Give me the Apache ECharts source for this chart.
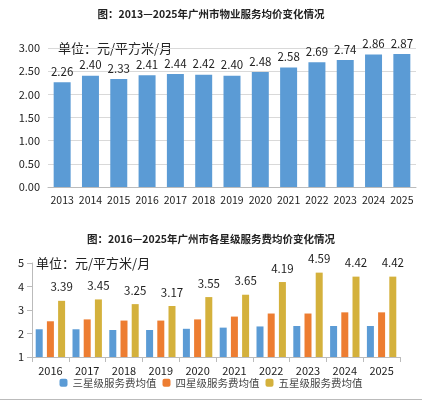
<!DOCTYPE html>
<html>
<head>
<meta charset="utf-8">
<script src="https://cdn.jsdelivr.net/npm/echarts@6/dist/echarts.min.js"></script>
<style>
  html, body { margin: 0; padding: 0; background: #fff; }
  #chart { width: 422px; height: 403px; }
</style>
</head>
<body>
<div id="chart"></div>
<script>
// 物业服务均价 2013-2025
const years1 = ["2013", "2014", "2015", "2016", "2017", "2018", "2019", "2020", "2021", "2022", "2023", "2024", "2025"];
const avgPrice = [2.26, 2.40, 2.33, 2.41, 2.44, 2.42, 2.40, 2.48, 2.58, 2.69, 2.74, 2.86, 2.87];

// 各星级服务费均值 2016-2025
const years2 = ["2016", "2017", "2018", "2019", "2020", "2021", "2022", "2023", "2024", "2025"];
const star3 = [2.18, 2.18, 2.15, 2.15, 2.20, 2.25, 2.30, 2.32, 2.32, 2.32];
const star4 = [2.52, 2.60, 2.55, 2.55, 2.60, 2.72, 2.85, 2.85, 2.90, 2.90];
const star5 = [3.39, 3.45, 3.25, 3.17, 3.55, 3.65, 4.19, 4.59, 4.42, 4.42];

const font = "'Noto Sans CJK SC', 'Noto Sans', sans-serif";
const chart = echarts.init(document.getElementById("chart"));

chart.setOption({
  textStyle: { fontFamily: font },
  animation: false,
  title: [
    { text: "图：2013—2025年广州市物业服务均价变化情况", left: "center", top: 4,
      textStyle: { fontSize: 10.5, fontWeight: "bold", color: "#222", fontFamily: font } },
    { text: "图：2016—2025年广州市各星级服务费均价变化情况", left: "center", top: 229,
      textStyle: { fontSize: 10.5, fontWeight: "bold", color: "#222", fontFamily: font } }
  ],
  legend: {
    bottom: 10, itemWidth: 8, itemHeight: 8, itemGap: 6,
    textStyle: { fontSize: 10.5, color: "#444" },
    data: ["三星级服务费均值", "四星级服务费均值", "五星级服务费均值"]
  },
  graphic: [
    { type: "text", left: 58, top: 42, style: { text: "单位：元/平方米/月", fontSize: 13, fill: "#222", fontFamily: font } },
    { type: "text", left: 36, top: 257, style: { text: "单位：元/平方米/月", fontSize: 13, fill: "#222", fontFamily: font } },
    { type: "rect", shape: { x: 0, y: 399, width: 422, height: 1 }, style: { fill: "#bbb" } }
  ],
  grid: [
    { left: 48, right: 6, top: 48, height: 139 },
    { left: 32, right: 22, top: 263, height: 94 }
  ],
  xAxis: [
    { gridIndex: 0, type: "category", data: years1,
      axisLine: { lineStyle: { color: "#bbb" } }, axisTick: { show: false },
      axisLabel: { fontSize: 10.5, color: "#222", interval: 0 } },
    { gridIndex: 1, type: "category", data: years2,
      axisLine: { lineStyle: { color: "#bbb" } }, axisTick: { show: true, lineStyle: { color: "#bbb" } },
      axisLabel: { fontSize: 11, color: "#222", interval: 0 } }
  ],
  yAxis: [
    { gridIndex: 0, type: "value", min: 0, max: 3, interval: 0.5,
      axisLine: { show: false }, splitLine: { lineStyle: { color: "#d9d9d9" } },
      axisLabel: { fontSize: 11, color: "#222", formatter: v => v.toFixed(2) } },
    { gridIndex: 1, type: "value", min: 1, max: 5, interval: 1,
      axisLine: { show: true, lineStyle: { color: "#bbb" } }, axisTick: { show: true, lineStyle: { color: "#bbb" } },
      splitLine: { show: false },
      axisLabel: { fontSize: 11, color: "#222" } }
  ],
  series: [
    { type: "bar", xAxisIndex: 0, yAxisIndex: 0, data: avgPrice, barWidth: "60%",
      itemStyle: { color: "#5b9bd5" },
      label: { show: true, position: "top", fontSize: 11.5, color: "#222", formatter: p => p.value.toFixed(2) } },
    { name: "三星级服务费均值", type: "bar", xAxisIndex: 1, yAxisIndex: 1, data: star3, barWidth: 7, barGap: "60%",
      itemStyle: { color: "#5b9bd5" } },
    { name: "四星级服务费均值", type: "bar", xAxisIndex: 1, yAxisIndex: 1, data: star4, barWidth: 7, barGap: "60%",
      itemStyle: { color: "#ed7d31" } },
    { name: "五星级服务费均值", type: "bar", xAxisIndex: 1, yAxisIndex: 1, data: star5, barWidth: 7, barGap: "60%",
      itemStyle: { color: "#d4b13c" },
      label: { show: true, position: "top", distance: 8, fontSize: 11.5, color: "#222", formatter: p => p.value.toFixed(2) } }
  ]
});
</script>
</body>
</html>
